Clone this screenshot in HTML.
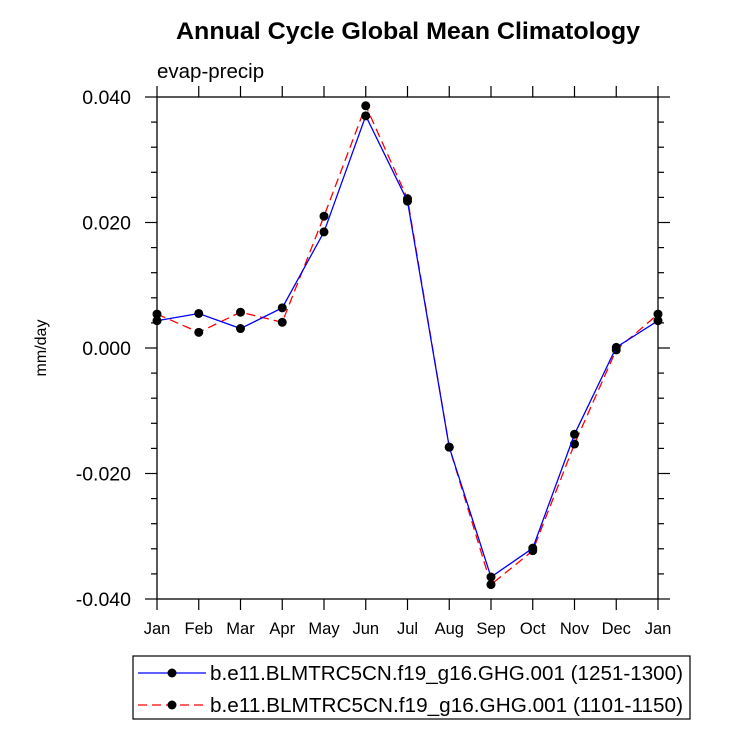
<!DOCTYPE html>
<html><head><meta charset="utf-8"><style>
body{margin:0;background:#fff;font-family:"Liberation Sans",Arial,sans-serif}
</style></head><body>
<svg id="chart" width="733" height="744" xmlns="http://www.w3.org/2000/svg" font-family="Liberation Sans, Arial, sans-serif">
<text x="408" y="39" text-anchor="middle" font-size="24.5" font-weight="bold" textLength="464" lengthAdjust="spacingAndGlyphs">Annual Cycle Global Mean Climatology</text>
<text x="157" y="78" font-size="20.5">evap-precip</text>
<text transform="translate(46,348) rotate(-90)" text-anchor="middle" font-size="16">mm/day</text>
<g id="axes"></g>
<g id="series"></g>
<g>
<rect x="133" y="656" width="557" height="63" fill="#fff" stroke="#000" stroke-width="1.2"/>
<line x1="138" y1="673" x2="206" y2="673" stroke="#0000ff" stroke-width="1.3"/>
<circle cx="172" cy="673" r="4.5" fill="#000"/>
<text x="210" y="680" font-size="20" textLength="473" lengthAdjust="spacingAndGlyphs">b.e11.BLMTRC5CN.f19_g16.GHG.001 (1251-1300)</text>
<line x1="138" y1="705" x2="206" y2="705" stroke="#ff0000" stroke-width="1.3" stroke-dasharray="9,5"/>
<circle cx="172" cy="705" r="4.5" fill="#000"/>
<text x="210" y="712" font-size="20" textLength="473" lengthAdjust="spacingAndGlyphs">b.e11.BLMTRC5CN.f19_g16.GHG.001 (1101-1150)</text>
</g>
</svg>
<script>
const months=["Jan","Feb","Mar","Apr","May","Jun","Jul","Aug","Sep","Oct","Nov","Dec","Jan"];
const blueVals=[0.00435,0.0055,0.0031,0.0064,0.0185,0.0370,0.0234,-0.0158,-0.0365,-0.0319,-0.01375,0.0001,0.00435];
const redVals=[0.0054,0.0025,0.0057,0.0041,0.0210,0.0386,0.0238,-0.0158,-0.0377,-0.0323,-0.0153,-0.0003,0.0054];
const yTicks=[-0.04,-0.02,0,0.02,0.04];
const yTickLabels=["-0.040","-0.020","0.000","0.020","0.040"];
const L=157,R=658,T=97,B=599,ymin=-0.04,ymax=0.04;
const NS="http://www.w3.org/2000/svg";
function xs(i){return L+(R-L)*i/(months.length-1);}
function ys(v){return B-(v-ymin)/(ymax-ymin)*(B-T);}
function mk(tag,attrs,parent){const e=document.createElementNS(NS,tag);for(const k in attrs)e.setAttribute(k,attrs[k]);parent.appendChild(e);return e;}
const ax=document.getElementById('axes');
const frame=mk('rect',{x:L,y:T,width:R-L,height:B-T,fill:'none',stroke:'#000','stroke-width':1.3},ax);


months.forEach((m,i)=>{const x=xs(i);
mk('line',{x1:x,y1:B,x2:x,y2:B+11,stroke:'#000','stroke-width':1.2},ax);
mk('line',{x1:x,y1:T,x2:x,y2:T-11,stroke:'#000','stroke-width':1.2},ax);
const t=mk('text',{x:x,y:B+35,'text-anchor':'middle','font-size':16.5},ax);t.textContent=m;


});
for(let v=ymin;v<=ymax+1e-9;v+=0.004){const y=ys(v);const major=Math.abs(Math.round(v/0.02)*0.02-v)<1e-9;const len=major?12:6;
mk('line',{x1:L,y1:y,x2:L-len,y2:y,stroke:'#000','stroke-width':1.2},ax);
mk('line',{x1:R,y1:y,x2:R+len,y2:y,stroke:'#000','stroke-width':1.2},ax);}
yTicks.forEach((v,i)=>{const t=mk('text',{x:L-26,y:ys(v)+7,'text-anchor':'end','font-size':19.5},ax);t.textContent=yTickLabels[i];


});
const sg=document.getElementById('series');
function draw(vals,color,dash,name){
const p=mk('polyline',{points:vals.map((v,i)=>xs(i)+','+ys(v)).join(' '),fill:'none',stroke:color,'stroke-width':1.3},sg);
if(dash)p.setAttribute('stroke-dasharray','9,5');


vals.forEach((v,i)=>{const c=mk('circle',{cx:xs(i),cy:ys(v),r:4.5,fill:'#000'},sg);


});}
draw(redVals,'#ff0000',true,'series-1101-1150');
draw(blueVals,'#0000ff',false,'series-1251-1300');
</script>
</body></html>
